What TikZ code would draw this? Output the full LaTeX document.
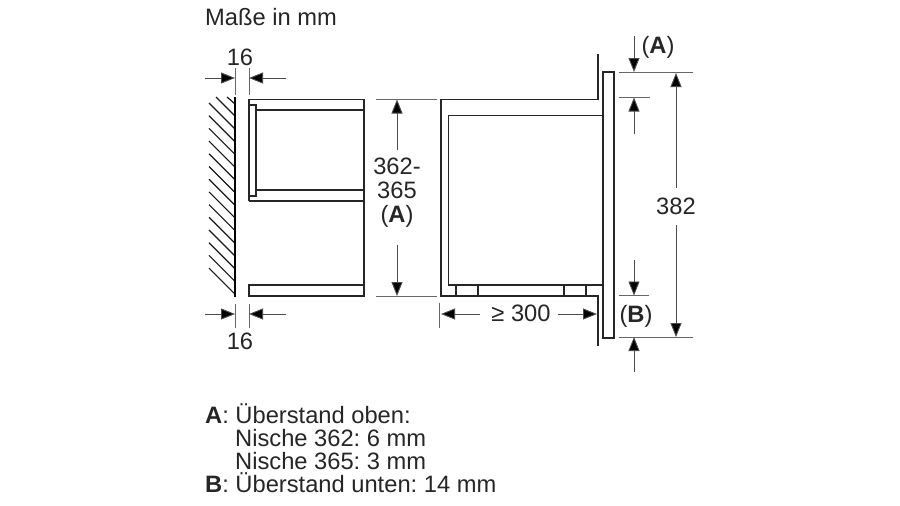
\documentclass[tikz,border=0pt]{standalone}
\usepackage{fontspec}
\setmainfont{Liberation Sans}
\usetikzlibrary{arrows.meta}
\tikzset{
  part/.style={draw=black!85,line width=1.5pt},
  wallline/.style={draw=black,line width=2.8pt},
  hatchline/.style={draw=black!90,line width=1.2pt},
  extline/.style={draw=black!60,line width=0.8pt},
  dimline/.style={draw=black!70,line width=0.9pt,-{Triangle[length=14pt,width=11pt,fill=black]}},
  lab/.style={font=\fontsize{23.7}{26}\selectfont\frenchspacing,inner sep=0pt,text=black!85},
  labw/.style={lab,anchor=base west}
}
\begin{document}
\begin{tikzpicture}[x=1pt,y=-1pt]
\useasboundingbox[fill=white] (0,0) rectangle (900,506);
\node[labw] (title) at (205,25) {Maße in mm};
% wall
\foreach \i in {0,...,13}{
  \draw[hatchline] (209,{103+12.7*\i}) -- (234.5,{128.5+12.7*\i});
}
\draw[hatchline] (216,97) -- (234.5,115.5);
\draw[hatchline] (227,97) -- (234.5,103.5);
\draw[wallline] (235,97) -- (235,297);
% left niche
\draw[part] (249,201) -- (249,99.5) -- (364,99.5) -- (364,296) -- (249,296) -- (249,285) -- (364,285);
\draw[part] (256,110) -- (364,110);
\draw[part] (256,190) -- (364,190);
\draw[part] (249,201) -- (364,201);
\draw[part] (249,105) -- (256,105) -- (256,196) -- (249,196);
% 16 dims
\draw[extline] (235,68) -- (235,95);
\draw[extline] (249,68) -- (249,95);
\draw[dimline] (205,78) -- (235,78);
\draw[dimline] (286,78) -- (249,78);
\node[lab] (d16a) at (240,57) {16};
\draw[extline] (235,304) -- (235,328);
\draw[extline] (249,304) -- (249,328);
\draw[dimline] (205,314) -- (235,314);
\draw[dimline] (286,314) -- (249,314);
\node[lab] (d16b) at (240,341) {16};
% 362-365
\draw[extline] (376,99.5) -- (437,99.5);
\draw[extline] (376,296) -- (437,296);
\draw[dimline] (397,150) -- (397,99.5);
\draw[dimline] (397,245) -- (397,296);
\node[lab] (n1) at (397,166) {362-};
\node[lab] (n2) at (397,190) {365};
\node[lab] (n3) at (397,216) {(\textbf{A})};
% right unit
\draw[part] (598,54) -- (598,99.5) -- (441,99.5) -- (441,296) -- (598,296) -- (598,346);
\draw[part] (603,115.5) -- (448.5,115.5) -- (448.5,285) -- (603,285);
\draw[part] (603,338) -- (603,72) -- (614,72) -- (614,338) -- cycle;
\draw[part] (456,285) rectangle (478,296);
\draw[part] (564,285) rectangle (586,296);
% >= 300
\draw[extline] (439.5,303) -- (439.5,328);
\draw[dimline] (480,314) -- (441,314);
\draw[dimline] (558,314) -- (597,314);
\node[lab] (d300) at (521,313) {≥ 300};
% right dims
\draw[extline] (619,72) -- (693,72);
\draw[extline] (619,97.5) -- (650,97.5);
\draw[extline] (619,295.5) -- (649,295.5);
\draw[extline] (619,337) -- (693,337);
\draw[dimline] (634,36) -- (634,72);
\draw[dimline] (634,134) -- (634,97.5);
\draw[dimline] (634,260) -- (634,295.5);
\draw[dimline] (634,372) -- (634,337);
\draw[dimline] (676,188) -- (676,73);
\draw[dimline] (676,225) -- (676,337);
\node[lab] (a) at (658,47) {(\textbf{A})};
\node[lab] (b) at (636,316) {(\textbf{B})};
\node[lab] (d382) at (676,206) {382};
% legend
\node[labw] (l1) at (205,423) {\textbf{A}: Überstand oben:};
\node[labw] (l2) at (235,446) {Nische 362: 6 mm};
\node[labw] (l3) at (235,469) {Nische 365: 3 mm};
\node[labw] (l4) at (205,492) {\textbf{B}: Überstand unten: 14 mm};
\end{tikzpicture}
\end{document}
